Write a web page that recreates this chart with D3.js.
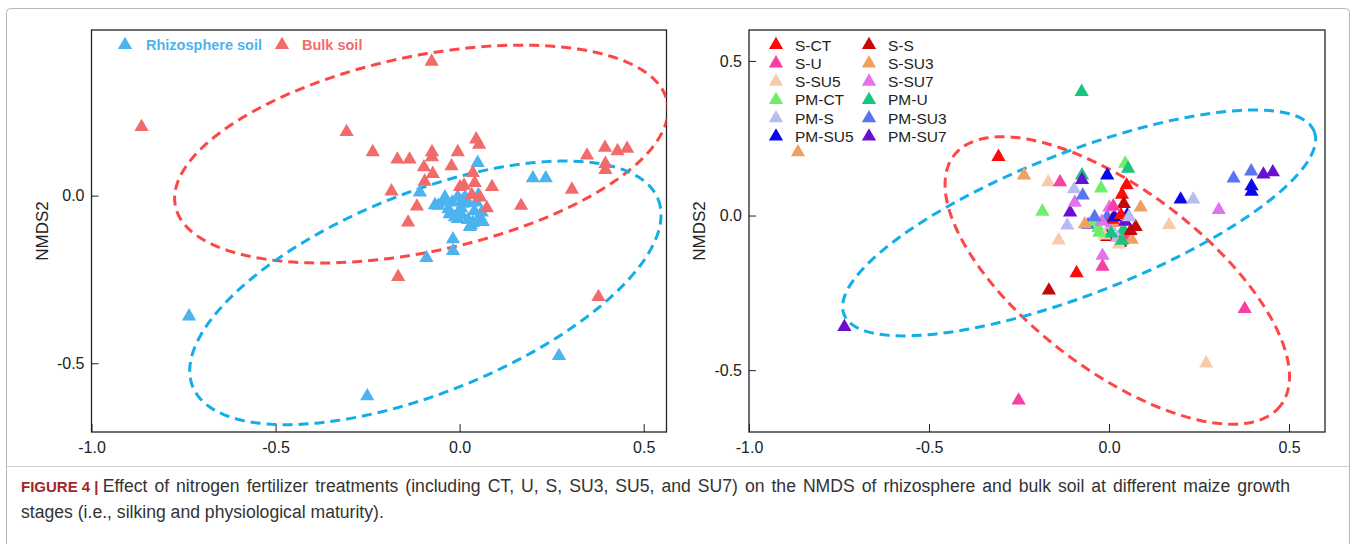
<!DOCTYPE html>
<html>
<head>
<meta charset="utf-8">
<script src="https://cdn.jsdelivr.net/npm/d3@7"></script>
<style>
  body { margin: 0; background: #fff; }
  svg { display: block; font-family: Arial, "Liberation Sans", sans-serif; }
</style>
</head>
<body>
<svg id="fig"></svg>
<script>
// NMDS scores : [NMDS1, NMDS2, soil (R = rhizosphere, B = bulk), treatment]
const samples = [
  [-0.735, -0.360, "R", "PM-SU7"],
  [-0.251, -0.598, "R", "S-U"],
  [0.270, -0.478, "R", "S-SU5"],
  [-0.090, -0.186, "R", "S-CT"],
  [-0.018, -0.130, "R", "S-SU7"],
  [-0.018, -0.165, "R", "S-U"],
  [0.199, 0.052, "R", "PM-SU5"],
  [0.234, 0.052, "R", "PM-S"],
  [0.049, 0.098, "R", "S-CT"],
  [-0.108, 0.010, "R", "PM-SU7"],
  [-0.058, -0.030, "R", "PM-SU3"],
  [-0.044, -0.020, "R", "PM-CT"],
  [-0.030, -0.040, "R", "PM-CT"],
  [-0.005, -0.004, "R", "PM-SU3"],
  [0.051, 0.002, "R", "PM-SU5"],
  [0.004, -0.037, "R", "PM-S"],
  [0.040, -0.046, "R", "PM-U"],
  [-0.005, -0.069, "R", "S-S"],
  [0.023, -0.072, "R", "PM-S"],
  [0.051, -0.069, "R", "S-U"],
  [0.031, -0.088, "R", "S-S"],
  [0.009, -0.024, "R", "S-SU7"],
  [-0.067, -0.028, "R", "S-SU3"],
  [0.022, -0.022, "R", "S-SU3"],
  [0.009, -0.013, "R", "S-CT"],
  [-0.013, -0.064, "R", "S-SU5"],
  [0.028, -0.093, "R", "S-SU5"],
  [0.063, -0.078, "R", "S-SU3"],
  [0.006, -0.058, "R", "PM-U"],
  [0.036, -0.081, "R", "PM-U"],
  [-0.027, -0.055, "R", "PM-CT"],
  [0.015, -0.005, "R", "PM-SU5"],
  [0.060, -0.050, "R", "S-S"],
  [-0.020, -0.020, "R", "S-SU7"],
  [-0.040, -0.005, "R", "PM-SU3"],
  [0.045, -0.020, "R", "PM-SU7"],
  [-0.864, 0.205, "B", "S-SU3"],
  [-0.076, 0.400, "B", "PM-U"],
  [-0.307, 0.190, "B", "S-CT"],
  [-0.236, 0.130, "B", "S-SU3"],
  [-0.169, 0.108, "B", "S-SU5"],
  [-0.136, 0.108, "B", "S-U"],
  [-0.185, 0.013, "B", "PM-CT"],
  [-0.167, -0.242, "B", "S-S"],
  [-0.140, -0.080, "B", "S-SU5"],
  [-0.116, -0.032, "B", "PM-S"],
  [-0.097, 0.085, "B", "PM-S"],
  [-0.095, 0.042, "B", "S-SU7"],
  [-0.073, 0.065, "B", "PM-SU3"],
  [-0.075, 0.130, "B", "PM-U"],
  [-0.075, 0.115, "B", "PM-SU7"],
  [-0.005, 0.130, "B", "PM-SU5"],
  [-0.022, 0.088, "B", "PM-CT"],
  [0.045, 0.168, "B", "PM-CT"],
  [0.053, 0.152, "B", "PM-U"],
  [0.036, 0.068, "B", "S-CT"],
  [0.041, 0.038, "B", "S-S"],
  [0.001, 0.026, "B", "S-SU7"],
  [0.088, 0.026, "B", "S-SU3"],
  [0.033, 0.002, "B", "S-CT"],
  [0.074, -0.037, "B", "S-S"],
  [0.167, -0.030, "B", "S-SU5"],
  [0.305, 0.018, "B", "S-SU7"],
  [0.346, 0.120, "B", "PM-SU3"],
  [0.395, 0.143, "B", "PM-SU3"],
  [0.429, 0.133, "B", "PM-SU7"],
  [0.455, 0.140, "B", "PM-SU7"],
  [0.396, 0.095, "B", "PM-SU5"],
  [0.396, 0.077, "B", "PM-SU5"],
  [0.377, -0.302, "B", "S-U"],
  [0.012, 0.030, "B", "S-U"],
  [0.055, -0.005, "B", "PM-S"]
];

const soilKeys = ["R", "B"];
const soilLabels = ["Rhizosphere soil", "Bulk soil"];
const soilColors = ["#4cb3ef", "#f26b6b"];

const treatments = ["S-CT", "S-S", "S-U", "S-SU3", "S-SU5", "S-SU7",
                    "PM-CT", "PM-U", "PM-S", "PM-SU3", "PM-SU5", "PM-SU7"];
const treatmentColors = ["#fe0a0a", "#c40808", "#f93fa3", "#f0a060", "#f7cba9", "#e273ee",
                         "#6cef6c", "#19c47e", "#b8bcf4", "#5a73ef", "#0a0ae8", "#6a0fcf"];

const xTicks = [-1.0, -0.5, 0.0, 0.5];
const yTicksLeft = [-0.5, 0.0];
const yTicksRight = [-0.5, 0.0, 0.5];

// confidence ellipses : [centre x, centre y, axis-1 x, axis-1 y, axis-2 x, axis-2 y]
const ellipseRhizo = [-0.093, -0.290, 0.632, 0.280, 0.102, -0.276];
const ellipseBulk = [-0.104, 0.124, 0.668, 0.156, 0.055, -0.285];
const ellipsePM = [-0.083, -0.024, 0.653, 0.296, 0.072, -0.214];
const ellipseS = [0.023, -0.210, 0.454, -0.404, -0.151, -0.230];

const caption = [
  "Effect of nitrogen fertilizer treatments (including CT, U, S, SU3, SU5, and SU7) on the NMDS of rhizosphere and bulk soil at different maize growth",
  "stages (i.e., silking and physiological maturity)."
];

const width = 1356;
const height = 544;

const svg = d3.select("#fig")
  .attr("width", width)
  .attr("height", height);

svg.append("rect")
  .attr("width", width).attr("height", height)
  .attr("fill", "#fff");

// figure box
svg.append("rect")
  .attr("x", 6.5).attr("y", 8.5)
  .attr("width", 1343).attr("height", 560)
  .attr("rx", 4)
  .attr("fill", "none")
  .attr("stroke", "#b8b8b8");

const soilColor = d3.scaleOrdinal(soilKeys, soilColors);
const treatColor = d3.scaleOrdinal(treatments, treatmentColors);
const tri = d3.symbol(d3.symbolTriangle, 88);
const fmt = d => d.toFixed(1);

function panel(id, left, right, xDomain, yDomain, yTicks, ellipses, colorOf) {
  const top = 30, bottom = 432;
  const x = d3.scaleLinear().domain(xDomain).range([left, right]);
  const y = d3.scaleLinear().domain(yDomain).range([bottom, top]);
  const g = svg.append("g");

  g.append("clipPath").attr("id", id)
    .append("rect")
    .attr("x", left).attr("y", top)
    .attr("width", right - left).attr("height", bottom - top);

  // x axis, ticks pointing inward
  g.append("g")
    .attr("transform", `translate(0,${bottom})`)
    .call(d3.axisBottom(x).tickValues(xTicks).tickFormat(fmt).tickSizeInner(-8).tickSizeOuter(0).tickPadding(6))
    .call(a => a.select(".domain").remove())
    .call(a => a.selectAll("line").attr("stroke", "#222"))
    .call(a => a.selectAll("text").attr("font-size", 16).attr("fill", "#222").attr("dy", "0.95em"));

  g.append("g")
    .attr("transform", `translate(${left},0)`)
    .call(d3.axisLeft(y).tickValues(yTicks).tickFormat(fmt).tickSizeInner(-7).tickSizeOuter(0).tickPadding(7))
    .call(a => a.select(".domain").remove())
    .call(a => a.selectAll("line").attr("stroke", "#222"))
    .call(a => a.selectAll("text").attr("font-size", 16).attr("fill", "#222"));

  g.append("rect")
    .attr("x", left).attr("y", top)
    .attr("width", right - left).attr("height", bottom - top)
    .attr("fill", "none")
    .attr("stroke", "#222")
    .attr("stroke-width", 1.3);

  g.append("text")
    .attr("transform", `translate(${left - 44},${(top + bottom) / 2}) rotate(-90)`)
    .attr("text-anchor", "middle")
    .attr("font-size", 17)
    .attr("fill", "#222")
    .text("NMDS2");

  const ts = d3.range(0, 2 * Math.PI + 0.001, Math.PI / 90);
  const line = d3.line().x(p => x(p[0])).y(p => y(p[1]));
  g.append("g")
    .attr("clip-path", `url(#${id})`)
    .selectAll("path")
    .data(ellipses)
    .join("path")
      .attr("d", e => line(ts.map(t => [
        e.p[0] + e.p[2] * Math.cos(t) + e.p[4] * Math.sin(t),
        e.p[1] + e.p[3] * Math.cos(t) + e.p[5] * Math.sin(t)])))
      .attr("fill", "none")
      .attr("stroke", e => e.color)
      .attr("stroke-width", 3)
      .attr("stroke-dasharray", "10,6");

  g.append("g")
    .selectAll("path")
    .data(samples)
    .join("path")
      .attr("transform", d => `translate(${x(d[0])},${y(d[1])})`)
      .attr("d", tri)
      .attr("fill", colorOf);

  return g;
}

const leftPanel = panel("clipL", 91.5, 666.5, [-1.0, 0.562], [-0.705, 0.494], yTicksLeft,
  [{p: ellipseBulk, color: "#ff4646"}, {p: ellipseRhizo, color: "#12aeea"}],
  d => soilColor(d[2]));

const rightPanel = panel("clipR", 749, 1325, [-1.0, 0.6], [-0.70, 0.60], yTicksRight,
  [{p: ellipseS, color: "#ff4646"}, {p: ellipsePM, color: "#12aeea"}],
  d => treatColor(d[3]));

// soil legend
const soilLegend = leftPanel.append("g")
  .selectAll("g")
  .data(soilKeys)
  .join("g")
    .attr("transform", (d, i) => `translate(${[125, 282][i]},45)`);
soilLegend.append("path")
  .attr("d", tri)
  .attr("fill", d => soilColor(d));
soilLegend.append("text")
  .attr("x", (d, i) => [21, 20][i])
  .attr("y", 5)
  .attr("font-size", 14.5)
  .attr("font-weight", "bold")
  .attr("fill", d => soilColor(d))
  .text((d, i) => soilLabels[i]);

// treatment legend
const treatLegend = rightPanel.append("g")
  .selectAll("g")
  .data(treatments)
  .join("g")
    .attr("transform", (d, i) => `translate(${776 + (i % 2) * 93},${45 + Math.floor(i / 2) * 18.3})`);
treatLegend.append("path")
  .attr("d", tri)
  .attr("fill", d => treatColor(d));
treatLegend.append("text")
  .attr("x", 19)
  .attr("y", 5.5)
  .attr("font-size", 15.5)
  .attr("fill", "#222")
  .text(d => d);

// caption, first line justified
svg.append("line")
  .attr("x1", 7).attr("x2", 1349)
  .attr("y1", 466.5).attr("y2", 466.5)
  .attr("stroke", "#d0d0d0");

const line1 = svg.append("text")
  .attr("x", 21).attr("y", 492)
  .attr("font-size", 17.6)
  .attr("fill", "#333");
line1.append("tspan")
  .attr("font-size", 15)
  .attr("font-weight", "bold")
  .attr("fill", "#a1262b")
  .text("FIGURE 4 | ");
const body1 = line1.append("tspan")
  .text(caption[0]);
const gaps = caption[0].split(" ").length - 1;
const spare = 1290 - 21 - line1.node().getComputedTextLength();
body1.attr("word-spacing", Math.max(0, spare / gaps));

svg.append("text")
  .attr("x", 21).attr("y", 518)
  .attr("font-size", 17.6)
  .attr("fill", "#333")
  .text(caption[1]);
</script>
</body>
</html>
